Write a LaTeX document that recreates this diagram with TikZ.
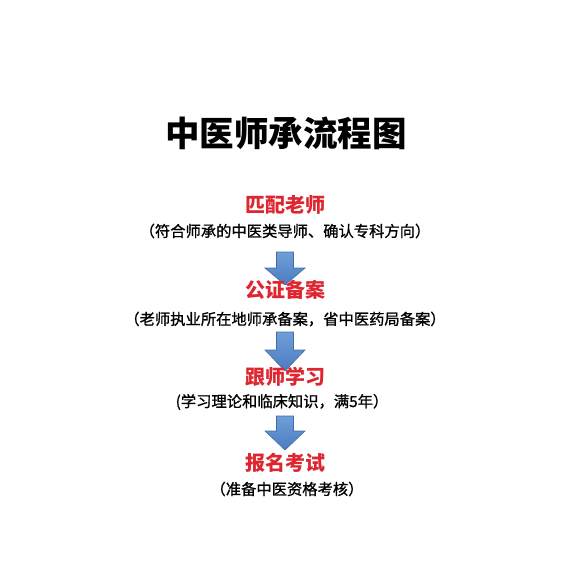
\documentclass[tikz,border=0pt]{standalone}
\usepackage{fontspec}
\newfontfamily\cjk{Noto Sans CJK SC}
\newfontfamily\cjksub[FakeBold=1]{Noto Sans CJK SC}
\usetikzlibrary{calc}
\definecolor{headred}{RGB}{222,38,48}
\definecolor{arrowtop}{RGB}{112,158,216}
\definecolor{arrowbot}{RGB}{74,124,192}
\definecolor{arrowedge}{RGB}{66,108,168}
\tikzset{
  titletext/.style={font=\cjk\bfseries\fontsize{34.5}{36}\selectfont, inner sep=0pt},
  headtext/.style={font=\cjk\bfseries\fontsize{20}{22}\selectfont, text=headred, inner sep=0pt},
  subtext/.style={font=\cjksub\fontsize{15.3}{17}\selectfont, inner sep=0pt},
  blockarrow/.style={top color=arrowtop, bottom color=arrowbot, draw=arrowedge, line width=0.6pt, line join=miter}
}
% #1 = top coordinate, #2 = tip coordinate, #3 = head length
\newcommand\blockarr[3]{%
  \path[blockarrow] let \p1=(#1), \p2=(#2) in
    (\x1-8.5pt,\y1) -- (\x1+8.5pt,\y1) -- (\x1+8.5pt,\y2+#3) -- (\x1+20pt,\y2+#3)
    -- (\x2,\y2) -- (\x1-20pt,\y2+#3) -- (\x1-8.5pt,\y2+#3) -- cycle;
}
\begin{document}
\begin{tikzpicture}[x=1pt,y=-1pt]
\useasboundingbox[fill=white] (0,0) rectangle (583,584);
\node[titletext] (title) at (286,133) {中医师承流程图};
\node[headtext] (h1) at (285,205) {匹配老师};
\node[subtext] (s1) at (285,231) {（符合师承的中医类导师、确认专科方向）};
\coordinate (a1top) at (285,252);
\coordinate (a1tip) at (285,285);
\blockarr{a1top}{a1tip}{17pt}
\node[headtext] (h2) at (285,290) {公证备案};
\node[subtext] (s2) at (285,319) {（老师执业所在地师承备案，省中医药局备案）};
\coordinate (a2top) at (285,332);
\coordinate (a2tip) at (285,371);
\blockarr{a2top}{a2tip}{21pt}
\node[headtext] (h3) at (285,377) {跟师学习};
\node[subtext] (s3) at (282,402) {(学习理论和临床知识，满5年）};
\coordinate (a3top) at (285,416);
\coordinate (a3tip) at (285,450);
\blockarr{a3top}{a3tip}{19pt}
\node[headtext] (h4) at (285,463) {报名考试};
\node[subtext] (s4) at (287,489) {（准备中医资格考核）};
\end{tikzpicture}
\end{document}
